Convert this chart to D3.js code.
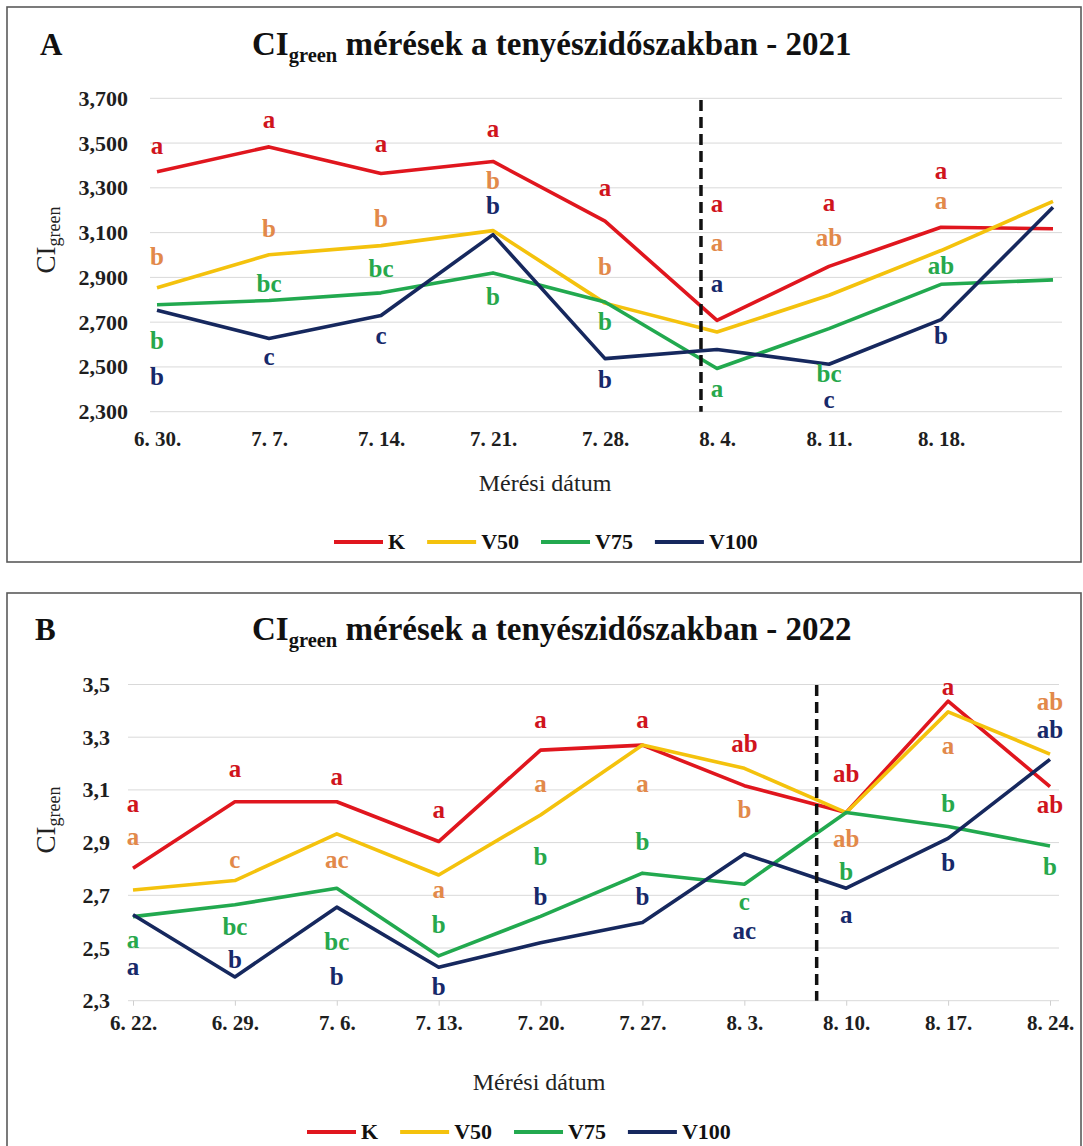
<!DOCTYPE html>
<html>
<head>
<meta charset="utf-8">
<script src="https://cdn.jsdelivr.net/npm/d3@7"></script>
<style>
  body { margin: 0; background: #fff; }
  svg { display: block; }
  svg text { font-family: "Liberation Serif", "Tinos", "Times New Roman", "DejaVu Serif", serif; }
</style>
</head>
<body>
<svg id="chart" width="1083" height="1146"></svg>
<script>
// ---- data ----
const seriesNames = ['K', 'V50', 'V75', 'V100'];

// 2021
const dates2021 = ['6. 30.', '7. 7.', '7. 14.', '7. 21.', '7. 28.', '8. 4.', '8. 11.', '8. 18.', ''];
const yTicks2021 = [2300, 2500, 2700, 2900, 3100, 3300, 3500, 3700];
const k2021 = [3372, 3483, 3364, 3418, 3151, 2708, 2949, 3124, 3117];
const v50_2021 = [2854, 3001, 3042, 3109, 2785, 2656, 2820, 3020, 3240];
const v75_2021 = [2778, 2797, 2831, 2920, 2790, 2493, 2671, 2869, 2889];
const v100_2021 = [2753, 2627, 2730, 3091, 2537, 2578, 2512, 2711, 3213];

// significance letters and the value they sit at
const kLetters2021 = ['a', 'a', 'a', 'a', 'a', 'a', 'a', 'a'];
const kLetterAt2021 = [3488, 3606, 3495, 3562, 3302, 3228, 3235, 3376];
const v50Letters2021 = ['b', 'b', 'b', 'b', 'b', 'a', 'ab', 'a'];
const v50LetterAt2021 = [2990, 3116, 3161, 3332, 2946, 3053, 3079, 3243];
const v75Letters2021 = ['b', 'bc', 'bc', 'b', 'b', 'a', 'bc', 'ab'];
const v75LetterAt2021 = [2619, 2871, 2938, 2812, 2701, 2404, 2468, 2953];
const v100Letters2021 = ['b', 'c', 'c', 'b', 'b', 'a', 'c', 'b'];
const v100LetterAt2021 = [2456, 2545, 2641, 3220, 2441, 2871, 2352, 2641];

// 2022
const dates2022 = ['6. 22.', '6. 29.', '7. 6.', '7. 13.', '7. 20.', '7. 27.', '8. 3.', '8. 10.', '8. 17.', '8. 24.'];
const yTicks2022 = [2.3, 2.5, 2.7, 2.9, 3.1, 3.3, 3.5];
const k2022 = [2.803, 3.055, 3.055, 2.904, 3.251, 3.270, 3.116, 3.014, 3.437, 3.112];
const v50_2022 = [2.720, 2.756, 2.933, 2.777, 3.005, 3.270, 3.182, 3.014, 3.396, 3.236];
const v75_2022 = [2.619, 2.664, 2.727, 2.470, 2.620, 2.784, 2.742, 3.014, 2.961, 2.887];
const v100_2022 = [2.626, 2.390, 2.655, 2.427, 2.520, 2.597, 2.857, 2.727, 2.916, 3.216];

const kLetters2022 = ['a', 'a', 'a', 'a', 'a', 'a', 'ab', 'ab', 'a', 'ab'];
const kLetterAt2022 = [3.049, 3.182, 3.150, 3.024, 3.365, 3.365, 3.276, 3.163, 3.491, 3.043];
const v50Letters2022 = ['a', 'c', 'ac', 'a', 'a', 'a', 'b', 'ab', 'a', 'ab'];
const v50LetterAt2022 = [2.923, 2.834, 2.834, 2.720, 3.125, 3.125, 3.026, 2.913, 3.266, 3.434];
const v75Letters2022 = ['a', 'bc', 'bc', 'b', 'b', 'b', 'c', 'b', 'b', 'b'];
const v75LetterAt2022 = [2.531, 2.579, 2.525, 2.588, 2.847, 2.904, 2.676, 2.790, 3.049, 2.809];
const v100Letters2022 = ['a', 'b', 'b', 'b', 'b', 'b', 'ac', 'a', 'b', 'ab'];
const v100LetterAt2022 = [2.430, 2.455, 2.392, 2.354, 2.695, 2.693, 2.566, 2.626, 2.824, 3.327];

// ---- styles ----
const lineColors = ['#e0161e', '#f4c20d', '#22a94f', '#16285e'];
const letterColors = ['#d0141d', '#e2894a', '#27a84c', '#17296a'];

const svg = d3.select('#chart');

const fmtThousands = d3.format(',');
const fmtDecimal = d => d3.format('.1f')(d).replace('.', ',');

function drawPanel(p) {
    const g = svg.append('g');

    // frame
    g.append('rect')
        .attr('x', p.box[0]).attr('y', p.box[1])
        .attr('width', p.box[2]).attr('height', p.box[3])
        .attr('fill', 'none')
        .attr('stroke', '#5a5a5a')
        .attr('stroke-width', 1.6);

    const x = d3.scaleLinear().domain([0, p.dates.length - 1]).range(p.xRange);
    const y = d3.scaleLinear().domain(d3.extent(p.yTicks)).range([p.yBottom, p.yTop]);

    // gridlines
    g.append('g').selectAll('line')
        .data(p.yTicks)
      .join('line')
        .attr('x1', p.plotLeft).attr('x2', p.plotRight)
        .attr('y1', d => y(d)).attr('y2', d => y(d))
        .attr('stroke', '#d9d9d9')
        .attr('stroke-width', 1);

    // y axis
    const yAxis = g.append('g')
        .attr('transform', `translate(${p.plotLeft},0)`)
        .call(d3.axisLeft(y).tickValues(p.yTicks).tickFormat(p.yFormat).tickSize(0).tickPadding(p.yPad));
    yAxis.select('.domain').remove();
    yAxis.attr('font-family', null).attr('font-size', 22).attr('font-weight', 'bold');
    yAxis.selectAll('text').attr('fill', '#1e1e1e');

    // x axis
    const xAxis = g.append('g')
        .attr('transform', `translate(0,${p.yBottom})`)
        .call(d3.axisBottom(x).tickValues(d3.range(p.dates.length))
            .tickFormat(i => p.dates[i]).tickSize(p.xTickSize).tickPadding(p.xPad));
    xAxis.select('.domain').remove();
    xAxis.attr('font-family', null).attr('font-size', 21).attr('font-weight', 'bold');
    xAxis.selectAll('line').attr('stroke', '#cfcfcf');
    xAxis.selectAll('text').attr('fill', '#1e1e1e');

    // series lines
    const line = d3.line().x((d, i) => x(i)).y(d => y(d));
    p.series.forEach((s, si) => {
        g.append('path')
            .datum(s)
            .attr('d', line)
            .attr('fill', 'none')
            .attr('stroke', lineColors[si])
            .attr('stroke-width', 3.6)
            .attr('stroke-linejoin', 'round');
    });

    // dashed marker
    g.append('line')
        .attr('x1', x(p.dashAt)).attr('x2', x(p.dashAt))
        .attr('y1', p.dashTop).attr('y2', p.yBottom)
        .attr('stroke', '#111')
        .attr('stroke-width', 3.5)
        .attr('stroke-dasharray', '11,6');

    // significance letters
    p.letters.forEach((letters, si) => {
        g.append('g').selectAll('text')
            .data(letters)
          .join('text')
            .attr('x', (d, i) => x(i))
            .attr('y', (d, i) => y(p.letterAt[si][i]))
            .attr('dy', '0.33em')
            .attr('text-anchor', 'middle')
            .attr('font-size', 25)
            .attr('font-weight', 'bold')
            .attr('fill', letterColors[si])
            .text(d => d);
    });

    // panel letter
    g.append('text')
        .attr('x', p.tag[1]).attr('y', p.tag[2])
        .attr('font-size', 31).attr('font-weight', 'bold')
        .attr('fill', '#111')
        .text(p.tag[0]);

    // title
    const title = g.append('text')
        .attr('x', p.titleX).attr('y', p.titleY)
        .attr('font-weight', 'bold').attr('fill', '#111');
    title.append('tspan').attr('font-size', 33).text('CI');
    title.append('tspan').attr('font-size', 20.5).attr('dy', 7).text('green');
    title.append('tspan').attr('font-size', 33).attr('dy', -7).text(' mérések a tenyészidőszakban - ' + p.year);

    // y axis title
    const yTitle = g.append('text')
        .attr('transform', `translate(${p.yTitle[0]},${p.yTitle[1]}) rotate(-90)`)
        .attr('text-anchor', 'middle')
        .attr('fill', '#222');
    yTitle.append('tspan').attr('font-size', 27).text('CI');
    yTitle.append('tspan').attr('font-size', 18).attr('dy', 5).text('green');

    // x axis title
    g.append('text')
        .attr('x', p.xTitle[0]).attr('y', p.xTitle[1])
        .attr('text-anchor', 'middle')
        .attr('font-size', 24).attr('fill', '#222')
        .text('Mérési dátum');

    // legend
    let lx = p.legend[0];
    const ly = p.legend[1];
    seriesNames.forEach((name, si) => {
        g.append('line')
            .attr('x1', lx).attr('x2', lx + 49)
            .attr('y1', ly).attr('y2', ly)
            .attr('stroke', lineColors[si])
            .attr('stroke-width', 4);
        const t = g.append('text')
            .attr('x', lx + 54).attr('y', ly)
            .attr('dy', '0.34em')
            .attr('font-size', 22).attr('font-weight', 'bold')
            .attr('fill', '#111')
            .text(name);
        lx = lx + 54 + t.node().getComputedTextLength() + 22;
    });
}

drawPanel({
    year: 2021,
    tag: ['A', 40, 55],
    box: [7, 7, 1074, 555],
    dates: dates2021,
    yTicks: yTicks2021,
    yFormat: fmtThousands,
    series: [k2021, v50_2021, v75_2021, v100_2021],
    letters: [kLetters2021, v50Letters2021, v75Letters2021, v100Letters2021],
    letterAt: [kLetterAt2021, v50LetterAt2021, v75LetterAt2021, v100LetterAt2021],
    plotLeft: 150, plotRight: 1062,
    xRange: [157, 1053],
    yTop: 98.3, yBottom: 411.7,
    yPad: 22, xTickSize: 0, xPad: 19,
    dashAt: 4.857, dashTop: 100,
    titleX: 252, titleY: 55,
    yTitle: [55, 240],
    xTitle: [545, 491],
    legend: [334, 542]
});

drawPanel({
    year: 2022,
    tag: ['B', 35, 640],
    box: [7, 593, 1074, 570],
    dates: dates2022,
    yTicks: yTicks2022,
    yFormat: fmtDecimal,
    series: [k2022, v50_2022, v75_2022, v100_2022],
    letters: [kLetters2022, v50Letters2022, v75Letters2022, v100Letters2022],
    letterAt: [kLetterAt2022, v50LetterAt2022, v75LetterAt2022, v100LetterAt2022],
    plotLeft: 128, plotRight: 1059,
    xRange: [133, 1050],
    yTop: 684.5, yBottom: 1000.7,
    yPad: 18, xTickSize: 5, xPad: 9,
    dashAt: 6.71, dashTop: 685,
    titleX: 252, titleY: 640,
    yTitle: [55, 820],
    xTitle: [539, 1090],
    legend: [307, 1132]
});
</script>
</body>
</html>
